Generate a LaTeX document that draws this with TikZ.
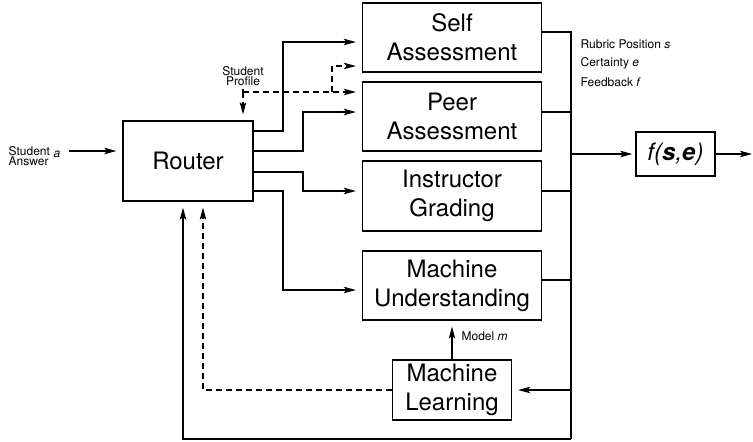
\documentclass[tikz,border=0pt]{standalone}
\usepackage{fontspec}
\setmainfont{TeX Gyre Heros}
\usetikzlibrary{arrows.meta}
\begin{document}
\begin{tikzpicture}[x=1pt,y=-1pt,line width=1.3pt,
  box/.style={draw,rectangle,align=center,inner sep=0pt,
    font=\fontsize{24}{29}\selectfont},
  arr/.style={-{Stealth[length=12pt,width=6.5pt,inset=2.5pt]},shorten >=6pt},
  small/.style={inner sep=0pt,font=\fontsize{12}{10}\selectfont},
  dsh/.style={dash pattern=on 6pt off 4pt}]
\useasboundingbox (0,0) rectangle (753,442);

% blocks
\node[box,minimum width=130pt,minimum height=80pt] (router) at (188,161) {Router};
\node[box,minimum width=179pt,minimum height=69pt] (self)  at (452,37.5) {Self\\Assessment};
\node[box,minimum width=179pt,minimum height=69pt] (peer)  at (452,116.5) {Peer\\Assessment};
\node[box,minimum width=179pt,minimum height=70pt] (instr) at (452,196) {Instructor\\Grading};
\node[box,minimum width=179pt,minimum height=69pt] (mu)    at (452,285.5) {Machine\\Understanding};
\node[box,minimum width=119pt,minimum height=60pt] (ml)    at (452,390) {Machine\\Learning};
\node[box,minimum width=79pt,minimum height=44pt]  (fse)   at (675.5,154) {\itshape f(\textbf{s},\textbf{e})};

% labels
\node[small,align=left,anchor=west] (ans) at (8,156) {Student\\Answer};
\node[small,anchor=west] (ansv) at (53,154) {\itshape a};
\node[small,align=center] (prof) at (243,76) {Student\\Profile};
\node[small,anchor=west] (rub) at (580,44) {Rubric Position \textit{s}};
\node[small,anchor=west] (cer) at (580,63) {Certainty \textit{e}};
\node[small,anchor=west] (fee) at (580,82) {Feedback \textit{f}};
\node[small,anchor=west] (mod) at (461,336) {Model \textit{m}};

\coordinate (in) at (69,151);
\coordinate (out) at (753,154);
\coordinate (pc) at (243,92);

% input and output
\draw[arr] (in) -- (router.west |- in);
\draw[arr,shorten >=1pt] (fse.east) -- (out);

% router fan-out
\draw[arr] (router.east |- 0,131) -- (283,131) |- (self.west |- 0,42);
\draw[arr] (router.east |- 0,151) -- (303,151) |- (peer.west |- 0,112);
\draw[arr] (router.east |- 0,172) -- (303,172) |- (instr.west |- 0,191);
\draw[arr] (router.east |- 0,191) -- (283,191) |- (mu.west |- 0,290);

% student profile (dashed)
\draw[dsh] (243,89) -- (pc);
\draw[arr,dsh] (pc) -- (peer.west |- pc);
\draw[arr,dsh] (332,92) -- (332,66) -- (self.west |- 0,66);
\draw[arr,dsh] (pc) -- (router.north -| pc);

% collecting bus and feedback loop
\draw (self.east |- 0,32) -- (571,32) -- (571,439);
\draw (peer.east |- 0,112) -- (571,112);
\draw (instr.east |- 0,191) -- (571,191);
\draw (mu.east |- 0,280) -- (571,280);
\draw[arr,shorten >=3pt] (571,154) -- (fse.west);
\draw[arr] (571,390) -- (ml.east);
\draw[arr] (571,439) -- (183,439) -- (router.south -| 183,0);
\draw[arr,dsh] (ml.west) -- (203,390) -- (router.south -| 203,0);
\draw[arr] (ml.north) -- (mu.south);
\end{tikzpicture}
\end{document}
